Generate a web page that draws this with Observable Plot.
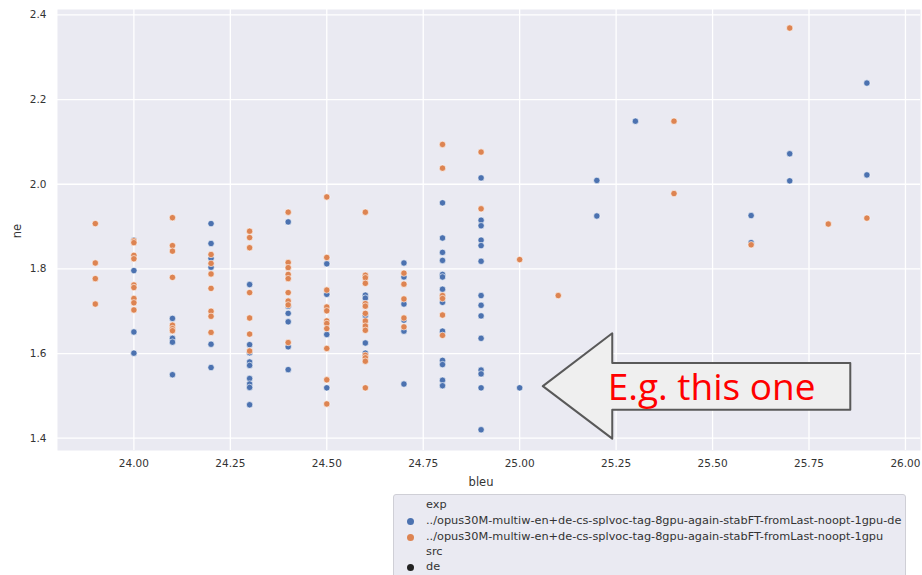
<!DOCTYPE html>
<html>
<head>
<meta charset="utf-8">
<script src="https://cdn.jsdelivr.net/npm/d3@7"></script>
<script src="https://cdn.jsdelivr.net/npm/@observablehq/plot@0.6"></script>
<style>
  body { margin: 0; background: #fff; width: 922px; height: 575px; overflow: hidden; position: relative; font-family: "DejaVu Sans", sans-serif; }
  #legend { position: absolute; left: 393px; top: 494px; width: 513px; height: 100px; background: #eaeaf2; border: 1px solid #cfcfd6; border-radius: 3px; box-sizing: border-box; font-size: 11.3px; color: #333; }
  #legend .row { position: absolute; left: 32px; white-space: nowrap; line-height: 14px; }
  #legend .dot { position: absolute; left: 13px; width: 7px; height: 7px; border-radius: 50%; }
</style>
</head>
<body>
<div id="chart"></div>
<div id="legend"></div>
<script>
// ---- data ----
const deLabel = "../opus30M-multiw-en+de-cs-splvoc-tag-8gpu-again-stabFT-fromLast-noopt-1gpu-de";
const allLabel = "../opus30M-multiw-en+de-cs-splvoc-tag-8gpu-again-stabFT-fromLast-noopt-1gpu";

const blueBleu = [
  24.0, 24.0, 24.0, 24.0,
  24.1, 24.1, 24.1, 24.1,
  24.2, 24.2, 24.2, 24.2, 24.2, 24.2,
  24.3, 24.3, 24.3, 24.3, 24.3, 24.3, 24.3, 24.3, 24.3,
  24.4, 24.4, 24.4, 24.4, 24.4, 24.4,
  24.5, 24.5, 24.5, 24.5,
  24.6, 24.6, 24.6, 24.6, 24.6, 24.6,
  24.7, 24.7, 24.7, 24.7, 24.7, 24.7,
  24.8, 24.8, 24.8, 24.8, 24.8, 24.8, 24.8, 24.8, 24.8, 24.8, 24.8, 24.8, 24.8, 24.8,
  24.9, 24.9, 24.9, 24.9, 24.9, 24.9, 24.9, 24.9, 24.9, 24.9, 24.9, 24.9, 24.9, 24.9,
  25.0,
  25.2, 25.2,
  25.3,
  25.6, 25.6,
  25.7, 25.7,
  25.9, 25.9
];
const blueNe = [
  1.868, 1.796, 1.651, 1.601,
  1.683, 1.636, 1.627, 1.550,
  1.907, 1.860, 1.825, 1.804, 1.622, 1.567,
  1.763, 1.621, 1.602, 1.580, 1.572, 1.541, 1.528, 1.520, 1.479,
  1.911, 1.712, 1.695, 1.675, 1.616, 1.562,
  1.812, 1.740, 1.645, 1.519,
  1.738, 1.731, 1.717, 1.690, 1.625, 1.601,
  1.814, 1.781, 1.717, 1.679, 1.653, 1.528,
  1.956, 1.873, 1.839, 1.820, 1.787, 1.781, 1.752, 1.734, 1.721, 1.653, 1.584, 1.574, 1.537, 1.524,
  2.015, 1.915, 1.902, 1.868, 1.855, 1.818, 1.737, 1.714, 1.689, 1.636, 1.561, 1.552, 1.519, 1.420,
  1.519,
  2.009, 1.925,
  2.149,
  1.926, 1.862,
  2.072, 2.008,
  2.239, 2.022
];

const orangeBleu = [
  23.9, 23.9, 23.9, 23.9,
  24.0, 24.0, 24.0, 24.0, 24.0, 24.0, 24.0, 24.0, 24.0,
  24.1, 24.1, 24.1, 24.1, 24.1, 24.1, 24.1,
  24.2, 24.2, 24.2, 24.2, 24.2, 24.2, 24.2,
  24.3, 24.3, 24.3, 24.3, 24.3, 24.3, 24.3,
  24.4, 24.4, 24.4, 24.4, 24.4, 24.4, 24.4, 24.4, 24.4,
  24.5, 24.5, 24.5, 24.5, 24.5, 24.5, 24.5, 24.5, 24.5, 24.5, 24.5,
  24.6, 24.6, 24.6, 24.6, 24.6, 24.6, 24.6, 24.6, 24.6, 24.6, 24.6, 24.6, 24.6, 24.6,
  24.7, 24.7, 24.7, 24.7, 24.7,
  24.8, 24.8, 24.8, 24.8, 24.8, 24.8,
  24.9, 24.9,
  25.0,
  25.1,
  25.4, 25.4,
  25.6,
  25.7,
  25.8,
  25.9
];
const orangeNe = [
  1.907, 1.814, 1.777, 1.717,
  1.866, 1.862, 1.832, 1.824, 1.762, 1.756, 1.730, 1.720, 1.703,
  1.921, 1.855, 1.842, 1.780, 1.667, 1.659, 1.654,
  1.834, 1.813, 1.788, 1.754, 1.700, 1.688, 1.650,
  1.889, 1.874, 1.850, 1.744, 1.684, 1.646, 1.606,
  1.934, 1.815, 1.803, 1.787, 1.777, 1.744, 1.724, 1.715, 1.626,
  1.970, 1.827, 1.750, 1.710, 1.701, 1.677, 1.671, 1.659, 1.612, 1.538, 1.481,
  1.934, 1.785, 1.779, 1.766, 1.718, 1.712, 1.695, 1.677, 1.665, 1.655, 1.596, 1.590, 1.582, 1.519,
  1.790, 1.764, 1.729, 1.684, 1.663,
  2.094, 2.038, 1.737, 1.730, 1.691, 1.643,
  2.076, 1.942,
  1.822,
  1.737,
  2.149, 1.978,
  1.857,
  2.369,
  1.906,
  1.920
];

const xTicks = [24.00, 24.25, 24.50, 24.75, 25.00, 25.25, 25.50, 25.75, 26.00];
const yTicks = [1.4, 1.6, 1.8, 2.0, 2.2, 2.4];

// annotation arrow (in data units) and its text
const arrowBleu = [25.060, 25.240, 25.240, 25.857, 25.857, 25.240, 25.240, 25.060];
const arrowNe   = [1.523, 1.648, 1.578, 1.578, 1.467, 1.467, 1.399, 1.523];
const noteText = "E.g. this one";

// ---- build ----
const blueColor = "#4c72b0", orangeColor = "#dd8452";
const blueData = blueBleu.map((b, i) => ({bleu: b, ne: blueNe[i]}));
const orangeData = orangeBleu.map((b, i) => ({bleu: b, ne: orangeNe[i]}));
const arrowData = arrowBleu.map((b, i) => ({bleu: b, ne: arrowNe[i]}));

const chart = Plot.plot({
  width: 922,
  height: 490,
  marginLeft: 57,
  marginRight: 2,
  marginTop: 9,
  marginBottom: 40,
  style: {fontFamily: "DejaVu Sans", fontSize: "10.5px", color: "#333", background: "white"},
  x: {domain: [23.802, 26.039], label: null},
  y: {domain: [1.371, 2.4128], label: null},
  marks: [
    Plot.frame({fill: "#eaeaf2", stroke: null}),
    Plot.gridX(xTicks, {stroke: "white", strokeOpacity: 1, strokeWidth: 1.3}),
    Plot.gridY(yTicks, {stroke: "white", strokeOpacity: 1, strokeWidth: 1.3}),
    Plot.axisX(xTicks, {tickSize: 0, tickPadding: 9, tickFormat: d3.format(".2f"), label: null, fill: "#333"}),
    Plot.axisY(yTicks, {tickSize: 0, tickPadding: 11, tickFormat: d3.format(".1f"), label: null, fill: "#333"}),
    Plot.dot(blueData, {x: "bleu", y: "ne", fill: blueColor, r: 3.2, stroke: "white", strokeWidth: 0.6}),
    Plot.dot(orangeData, {x: "bleu", y: "ne", fill: orangeColor, r: 3.2, stroke: "white", strokeWidth: 0.6}),
    Plot.text(["bleu"], {frameAnchor: "bottom", dy: 32, dx: -8, text: d => d, fontSize: 11.5, fill: "#333", textAnchor: "middle", lineAnchor: "middle"}),
    Plot.text(["ne"], {frameAnchor: "left", dx: -40, dy: 1, rotate: -90, text: d => d, fontSize: 11.5, fill: "#333", textAnchor: "middle", lineAnchor: "middle"}),
    Plot.line(arrowData, {x: "bleu", y: "ne", fill: "#efefef", stroke: "#595959", strokeWidth: 2, curve: "linear-closed"}),
    Plot.text([noteText], {x: () => 25.228, y: () => 1.518, text: d => d, textAnchor: "start", fill: "#ff0000", fontSize: 37, fontFamily: "Open Sans", lineAnchor: "middle"})
  ]
});
document.getElementById("chart").appendChild(chart);

// legend
const legend = document.getElementById("legend");
const rows = [
  {label: "exp", color: null, top: 3},
  {label: deLabel, color: blueColor, top: 19},
  {label: allLabel, color: orangeColor, top: 35},
  {label: "src", color: null, top: 50},
  {label: "de", color: "#222", top: 65}
];
for (const r of rows) {
  const t = document.createElement("div");
  t.className = "row";
  t.style.top = r.top + "px";
  t.textContent = r.label;
  legend.appendChild(t);
  if (r.color) {
    const d = document.createElement("div");
    d.className = "dot";
    d.style.top = (r.top + 4) + "px";
    d.style.background = r.color;
    legend.appendChild(d);
  }
}
</script>
</body>
</html>
